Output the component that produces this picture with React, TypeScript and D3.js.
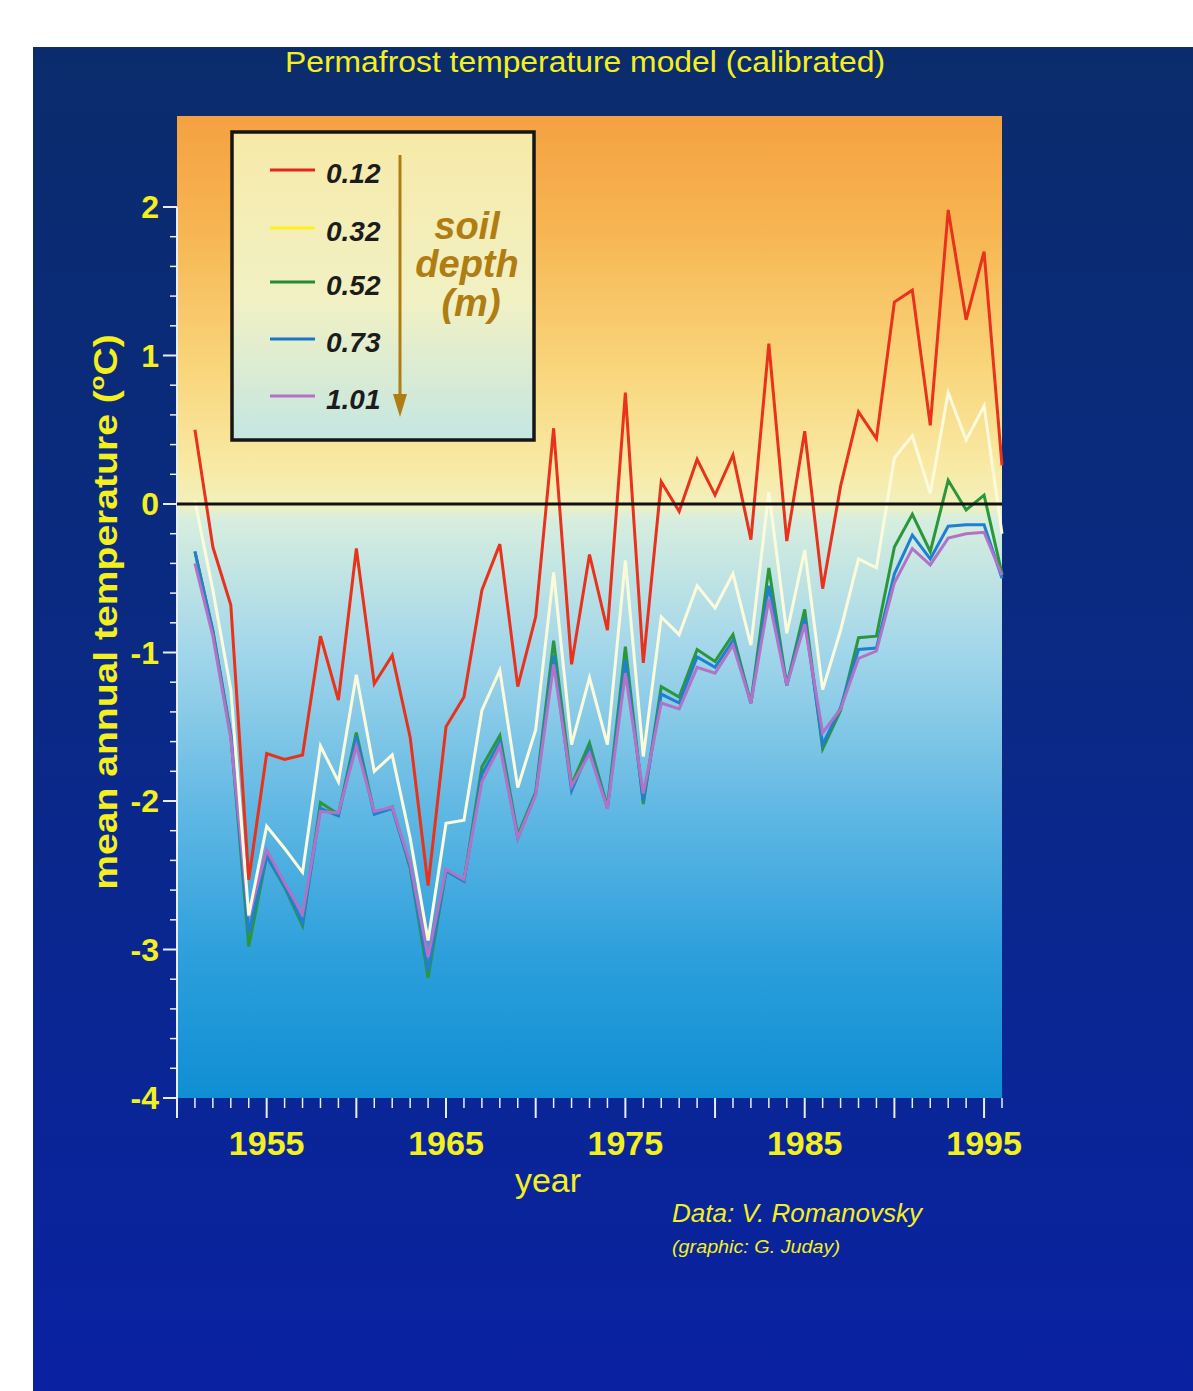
import React from 'react';
import * as d3 from 'd3';

const years = [1951, 1952, 1953, 1954, 1955, 1956, 1957, 1958, 1959, 1960, 1961, 1962, 1963, 1964, 1965, 1966, 1967, 1968, 1969, 1970, 1971, 1972, 1973, 1974, 1975, 1976, 1977, 1978, 1979, 1980, 1981, 1982, 1983, 1984, 1985, 1986, 1987, 1988, 1989, 1990, 1991, 1992, 1993, 1994, 1995, 1996];

const depth012 = [0.50, -0.29, -0.68, -2.53, -1.68, -1.72, -1.69, -0.89, -1.32, -0.30, -1.21, -1.02, -1.57, -2.57, -1.50, -1.30, -0.58, -0.27, -1.23, -0.76, 0.51, -1.08, -0.34, -0.85, 0.75, -1.07, 0.15, -0.05, 0.30, 0.06, 0.33, -0.24, 1.08, -0.25, 0.49, -0.57, 0.12, 0.62, 0.44, 1.36, 1.44, 0.53, 1.98, 1.24, 1.70, 0.26];
const depth032 = [0.02, -0.58, -1.25, -2.77, -2.17, -2.32, -2.48, -1.63, -1.87, -1.15, -1.80, -1.69, -2.25, -2.94, -2.15, -2.13, -1.39, -1.12, -1.91, -1.52, -0.46, -1.62, -1.17, -1.62, -0.38, -1.70, -0.76, -0.88, -0.55, -0.70, -0.47, -0.95, 0.08, -0.87, -0.31, -1.25, -0.85, -0.37, -0.43, 0.31, 0.46, 0.07, 0.75, 0.43, 0.66, -0.20];
const depth052 = [-0.32, -0.85, -1.55, -2.98, -2.37, -2.58, -2.84, -2.01, -2.09, -1.54, -2.08, -2.04, -2.45, -3.19, -2.47, -2.54, -1.77, -1.56, -2.23, -1.94, -0.92, -1.89, -1.61, -2.04, -0.96, -2.02, -1.23, -1.30, -0.98, -1.06, -0.88, -1.34, -0.43, -1.22, -0.71, -1.65, -1.39, -0.90, -0.89, -0.29, -0.07, -0.32, 0.16, -0.04, 0.06, -0.47];
const depth073 = [-0.32, -0.86, -1.56, -2.89, -2.37, -2.57, -2.82, -2.05, -2.10, -1.57, -2.09, -2.05, -2.44, -3.14, -2.47, -2.54, -1.82, -1.60, -2.25, -1.95, -1.02, -1.93, -1.65, -2.05, -1.05, -2.00, -1.28, -1.34, -1.03, -1.10, -0.92, -1.34, -0.55, -1.22, -0.77, -1.62, -1.37, -0.98, -0.97, -0.47, -0.21, -0.37, -0.15, -0.14, -0.14, -0.50];
const depth101 = [-0.40, -0.89, -1.58, -2.78, -2.33, -2.55, -2.76, -2.07, -2.08, -1.63, -2.07, -2.04, -2.42, -3.05, -2.46, -2.53, -1.87, -1.63, -2.25, -1.96, -1.08, -1.90, -1.68, -2.05, -1.14, -1.95, -1.34, -1.38, -1.10, -1.14, -0.95, -1.34, -0.64, -1.22, -0.81, -1.54, -1.38, -1.04, -0.99, -0.53, -0.30, -0.41, -0.23, -0.20, -0.19, -0.48];

const legendLabels = ['0.12', '0.32', '0.52', '0.73', '1.01'];
const legendColors = ['#e4261a', '#fff21c', '#278a36', '#1b74c8', '#b273c4'];
const lineColors = ['#e8321c', '#fbfbdc', '#2b973b', '#1f7fd0', '#b173c6'];
const seriesData = [depth012, depth032, depth052, depth073, depth101];
const drawOrder = [2, 3, 4, 1, 0];

const yMajorTicks = [-4, -3, -2, -1, 0, 1, 2];
const yMinorTicks = [-3.8, -3.6, -3.4, -3.2, -2.8, -2.6, -2.4, -2.2, -1.8, -1.6, -1.4, -1.2, -0.8, -0.6, -0.4, -0.2, 0.2, 0.4, 0.6, 0.8, 1.2, 1.4, 1.6, 1.8];
const xLabelYears = [1955, 1965, 1975, 1985, 1995];
const xTickYears = [1951, 1952, 1953, 1954, 1955, 1956, 1957, 1958, 1959, 1960, 1961, 1962, 1963, 1964, 1965, 1966, 1967, 1968, 1969, 1970, 1971, 1972, 1973, 1974, 1975, 1976, 1977, 1978, 1979, 1980, 1981, 1982, 1983, 1984, 1985, 1986, 1987, 1988, 1989, 1990, 1991, 1992, 1993, 1994, 1995, 1996];

const YELLOW = '#f4f01e';
const FONT = "'Liberation Sans', Arial, Helvetica, sans-serif";

export default function App() {
  const W = 1193, H = 1391;
  const left = 177, right = 1002, top = 116, bottom = 1098;
  const x = d3.scaleLinear().domain([1950, 1996]).range([left, right]);
  const y = d3.scaleLinear().domain([-4, 2]).range([bottom, 207]);
  const line = d3.line<number>().x((_, i) => x(years[i])).y((v) => y(v));

  return (
    <div style={{ position: 'absolute', left: 0, top: 0 }}>
      <svg width={W} height={H} style={{ display: 'block', fontFamily: FONT }}>
        <defs>
          <linearGradient id="panel" x1="0" y1="0" x2="0" y2="1">
            <stop offset="0%" stopColor="#0b2c6c" />
            <stop offset="45%" stopColor="#0a2a84" />
            <stop offset="100%" stopColor="#0a22a2" />
          </linearGradient>
          <linearGradient id="plotbg" x1="0" y1="0" x2="0" y2="1">
            <stop offset="0%" stopColor="#f5a141" />
            <stop offset="12%" stopColor="#f7b653" />
            <stop offset="26%" stopColor="#f9d67c" />
            <stop offset="36%" stopColor="#f8eaa6" />
            <stop offset="39.5%" stopColor="#f2f0bc" />
            <stop offset="41%" stopColor="#d7eede" />
            <stop offset="54%" stopColor="#a4d7ea" />
            <stop offset="70%" stopColor="#63b9e4" />
            <stop offset="85%" stopColor="#2ea0dc" />
            <stop offset="100%" stopColor="#0f8ed3" />
          </linearGradient>
          <linearGradient id="legbg" x1="0" y1="0" x2="0" y2="1">
            <stop offset="0%" stopColor="#f7eaa8" />
            <stop offset="55%" stopColor="#f1f1c4" />
            <stop offset="100%" stopColor="#c4e6e2" />
          </linearGradient>
        </defs>

        <rect x={0} y={0} width={W} height={H} fill="#ffffff" />
        <rect x={33} y={47} width={W - 33} height={H - 47} fill="url(#panel)" />

        <text x={585} y={72} textAnchor="middle" fontSize={30} fill={YELLOW} textLength={600} lengthAdjust="spacingAndGlyphs">
          Permafrost temperature model (calibrated)
        </text>

        <rect x={left} y={top} width={right - left} height={bottom - top} fill="url(#plotbg)" />

        {/* y axis */}
        <line x1={left} x2={left} y1={y(2)} y2={1118} stroke="#e8eef5" strokeWidth={2} />
        {yMajorTicks.map((t) => (
          <line key={'ym' + t} x1={163} x2={left} y1={y(t)} y2={y(t)} stroke="#e8eef5" strokeWidth={2} />
        ))}
        {yMinorTicks.map((t) => (
          <line key={'yn' + t} x1={170} x2={left} y1={y(t)} y2={y(t)} stroke="#e8eef5" strokeWidth={1.5} />
        ))}
        {yMajorTicks.map((t) => (
          <text key={'yl' + t} x={159} y={y(t) + 11} textAnchor="end" fontSize={32} fontWeight="bold" fill={YELLOW}>
            {t}
          </text>
        ))}
        <g transform={`translate(117,612) rotate(-90) scale(1.15,1)`}>
          <text x={0} y={0} textAnchor="middle" fontSize={34} fontWeight="bold" fill={YELLOW}>
            mean annual temperature (
            <tspan fontSize={21} dy={-13}>o</tspan>
            <tspan dy={13}>C)</tspan>
          </text>
        </g>

        {/* x axis ticks */}
        {xTickYears.map((yr) => (
          <line key={'xt' + yr} x1={x(yr)} x2={x(yr)} y1={bottom} y2={yr % 5 === 0 ? 1118 : 1108} stroke="#e8eef5" strokeWidth={yr % 5 === 0 ? 2 : 1.5} />
        ))}
        {xLabelYears.map((yr) => (
          <text key={'xl' + yr} x={x(yr)} y={1155} textAnchor="middle" fontSize={34} fontWeight="bold" fill={YELLOW}>
            {yr}
          </text>
        ))}
        <text x={548} y={1192} textAnchor="middle" fontSize={34} fill={YELLOW}>year</text>
        <text x={672} y={1222} fontSize={26} fontStyle="italic" fill={YELLOW} textLength={250} lengthAdjust="spacingAndGlyphs">Data: V. Romanovsky</text>
        <text x={672} y={1253} fontSize={19} fontStyle="italic" fill={YELLOW} textLength={168} lengthAdjust="spacingAndGlyphs">(graphic: G. Juday)</text>

        {/* legend */}
        <rect x={232} y={132} width={302} height={308} fill="url(#legbg)" stroke="#161616" strokeWidth={3.5} />
        {legendLabels.map((lab, i) => {
          const ly = [170, 228, 282, 339, 396][i];
          return (
            <g key={'lg' + lab}>
              <line x1={270} x2={315} y1={ly} y2={ly} stroke={legendColors[i]} strokeWidth={3} />
              <text x={326} y={ly + 6} fontSize={28} fontWeight="bold" fontStyle="italic" fill="#1c1c1c" dominantBaseline="middle">
                {lab}
              </text>
            </g>
          );
        })}
        <line x1={400} x2={400} y1={155} y2={400} stroke="#b07d12" strokeWidth={3} />
        <path d="M393,394 L407,394 L400,417 Z" fill="#b07d12" />
        <text x={467} y={239} textAnchor="middle" fontSize={38} fontWeight="bold" fontStyle="italic" fill="#b07d12">soil</text>
        <text x={467} y={277} textAnchor="middle" fontSize={38} fontWeight="bold" fontStyle="italic" fill="#b07d12">depth</text>
        <text x={471} y={316} textAnchor="middle" fontSize={38} fontWeight="bold" fontStyle="italic" fill="#b07d12">(m)</text>

        {/* data lines */}
        {drawOrder.map((si) => (
          <path key={'s' + si} d={line(seriesData[si]) || ''} fill="none" stroke={lineColors[si]} strokeWidth={3} strokeLinejoin="miter" />
        ))}

        {/* zero line */}
        <line x1={left} x2={right} y1={y(0)} y2={y(0)} stroke="#111" strokeWidth={3} />
      </svg>
    </div>
  );
}
